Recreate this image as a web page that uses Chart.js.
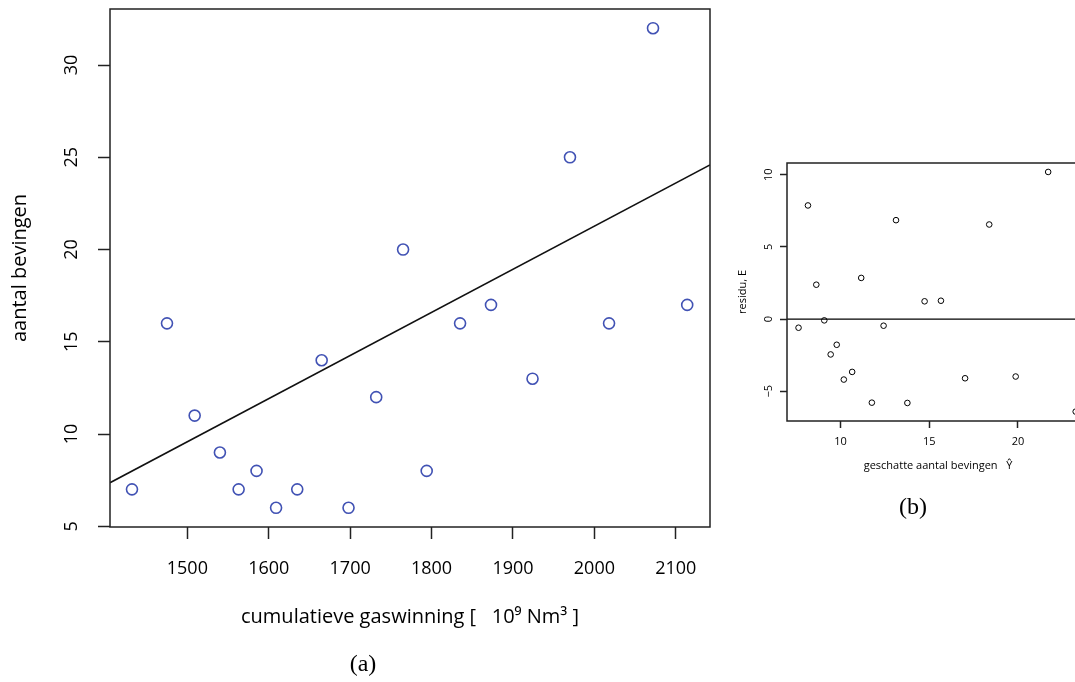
<!DOCTYPE html>
<html>
<head>
<meta charset="utf-8">
<script src="https://cdn.jsdelivr.net/npm/chart.js@4.4.1/dist/chart.umd.min.js"></script>
<style>
  html, body { margin: 0; padding: 0; background: #fff; overflow: hidden; width: 1075px; height: 682px; }
  canvas { position: absolute; }
  #chartA { left: 0; top: 0; }
  #chartB { left: 720px; top: 140px; }
  .cap { position: absolute; font-family: 'Liberation Serif', 'DejaVu Serif', serif; font-size: 24px; color: #000; transform: translate(-50%, -50%); }
</style>
</head>
<body>
<canvas id="chartA" width="740" height="682"></canvas>
<canvas id="chartB" width="400" height="360"></canvas>
<div class="cap" style="left:363px; top:663px;">(a)</div>
<div class="cap" style="left:913px; top:506px;">(b)</div>
<script>
// (a) cumulative gas extraction vs number of quakes
const gasX    = [1432, 1475, 1509, 1540, 1563, 1585, 1609, 1635, 1665, 1698, 1732, 1765, 1794, 1835, 1873, 1924, 1970, 2018, 2072, 2114];
const quakes  = [7, 16, 11, 9, 7, 8, 6, 7, 14, 6, 12, 20, 8, 16, 17, 13, 25, 16, 32, 17];
const fitIntercept = -25.49;
const fitSlope     = 0.02338;
const xTicksA = [1500, 1600, 1700, 1800, 1900, 2000, 2100];
const yTicksA = [5, 10, 15, 20, 25, 30];
const xRangeA = [1405, 2142];
const yRangeA = [4.96, 33.04];

// (b) residuals vs fitted
const fittedB = [7.64, 8.17, 8.64, 9.09, 9.45, 9.79, 10.19, 10.66, 11.17, 11.77, 12.43, 13.13, 13.77, 14.74, 15.66, 17.02, 18.38, 19.87, 21.70, 23.25];
const residB  = [-0.60, 7.87, 2.38, -0.09, -2.45, -1.78, -4.19, -3.66, 2.85, -5.79, -0.46, 6.85, -5.81, 1.23, 1.27, -4.10, 6.55, -3.98, 10.19, -6.41];
const xTicksB = [10, 15, 20];
const yTicksB = [-5, 0, 5, 10];
const xRangeB = [6.99, 24.0];
const yRangeB = [-7.06, 10.81];

const BOX = '#222';

// full box around the plot area, like R's box()
const boxPlugin = {
  id: 'box',
  afterDatasetsDraw(chart) {
    const a = chart.chartArea, ctx = chart.ctx;
    ctx.save();
    ctx.strokeStyle = BOX;
    ctx.lineWidth = 1.5;
    ctx.strokeRect(a.left, a.top, a.right - a.left, a.bottom - a.top);
    ctx.restore();
  }
};

// y tick labels turned to read bottom-to-top
const yLabelPlugin = {
  id: 'yLabels',
  afterDraw(chart, args, opts) {
    const s = chart.scales.y, ctx = chart.ctx;
    ctx.save();
    ctx.font = opts.font;
    ctx.fillStyle = '#000';
    ctx.textAlign = 'center';
    ctx.textBaseline = 'middle';
    s.ticks.forEach(t => {
      ctx.save();
      ctx.translate(s.right - opts.offset, s.getPixelForValue(t.value));
      ctx.rotate(-Math.PI / 2);
      ctx.fillText(t.value < 0 ? '\u2212' + Math.abs(t.value) : String(t.value), 0, 0);
      ctx.restore();
    });
    ctx.restore();
  }
};

Chart.defaults.font.family = "'Open Sans', 'Noto Sans', sans-serif";
Chart.defaults.color = '#000';

const gridOpts = len => ({
  drawOnChartArea: false, drawTicks: true, tickLength: len,
  tickColor: BOX, tickWidth: 1.5
});
const plain = v => String(v);

new Chart(document.getElementById('chartA'), {
  type: 'scatter',
  data: {
    datasets: [{
      data: gasX.map((x, i) => ({ x, y: quakes[i] })),
      pointStyle: 'circle',
      pointRadius: 5.5,
      borderColor: '#4152b4',
      backgroundColor: 'rgba(0,0,0,0)',
      borderWidth: 1.6
    }, {
      data: xRangeA.map(x => ({ x, y: fitIntercept + fitSlope * x })),
      showLine: true,
      pointRadius: 0,
      borderColor: '#111',
      borderWidth: 1.6
    }]
  },
  options: {
    responsive: false,
    animation: false,
    layout: { padding: { top: 9, right: 30, bottom: 0, left: 0 } },
    plugins: {
      legend: { display: false },
      tooltip: { enabled: false },
      yLabels: { font: "18px 'Open Sans', sans-serif", offset: 38 }
    },
    scales: {
      x: {
        type: 'linear', min: xRangeA[0], max: xRangeA[1],
        afterBuildTicks: s => { s.ticks = xTicksA.map(v => ({ value: v })); },
        afterFit: s => { s.height = 155; },
        ticks: { font: { size: 18 }, padding: 19, maxRotation: 0, callback: plain },
        grid: gridOpts(12),
        border: { display: false },
        title: {
          display: true,
          text: 'cumulatieve gaswinning [   10\u2079 Nm\u00b3 ]',
          font: { size: 20 },
          padding: { top: 0, bottom: 53 }
        }
      },
      y: {
        type: 'linear', min: yRangeA[0], max: yRangeA[1],
        afterBuildTicks: s => { s.ticks = yTicksA.map(v => ({ value: v })); },
        afterFit: s => { s.width = 110; },
        ticks: { display: false },
        grid: gridOpts(12),
        border: { display: false },
        title: {
          display: true,
          text: 'aantal bevingen',
          font: { size: 20 },
          padding: { top: 8, bottom: 0 }
        }
      }
    }
  },
  plugins: [boxPlugin, yLabelPlugin]
});

new Chart(document.getElementById('chartB'), {
  type: 'scatter',
  data: {
    datasets: [{
      data: fittedB.map((x, i) => ({ x, y: residB[i] })),
      pointStyle: 'circle',
      pointRadius: 2.8,
      borderColor: '#000',
      backgroundColor: 'rgba(0,0,0,0)',
      borderWidth: 1
    }, {
      data: xRangeB.map(x => ({ x, y: 0 })),
      showLine: true,
      pointRadius: 0,
      borderColor: '#000',
      borderWidth: 1.2
    }]
  },
  options: {
    responsive: false,
    animation: false,
    layout: { padding: { top: 23, right: 31, bottom: 0, left: 0 } },
    plugins: {
      legend: { display: false },
      tooltip: { enabled: false },
      yLabels: { font: "11px 'Open Sans', sans-serif", offset: 18 }
    },
    scales: {
      x: {
        type: 'linear', min: xRangeB[0], max: xRangeB[1],
        afterBuildTicks: s => { s.ticks = xTicksB.map(v => ({ value: v })); },
        afterFit: s => { s.height = 79; },
        ticks: { font: { size: 11 }, padding: 7, maxRotation: 0, callback: plain },
        grid: gridOpts(7),
        border: { display: false },
        title: {
          display: true,
          text: 'geschatte aantal bevingen   \u0176',
          font: { size: 11 },
          padding: { top: 0, bottom: 28 }
        }
      },
      y: {
        type: 'linear', min: yRangeB[0], max: yRangeB[1],
        afterBuildTicks: s => { s.ticks = yTicksB.map(v => ({ value: v })); },
        afterFit: s => { s.width = 67; },
        ticks: { display: false },
        grid: gridOpts(7),
        border: { display: false },
        title: {
          display: true,
          text: 'residu, E',
          font: { size: 11 },
          padding: { top: 16, bottom: 0 }
        }
      }
    }
  },
  plugins: [boxPlugin, yLabelPlugin]
});
</script>
</body>
</html>
